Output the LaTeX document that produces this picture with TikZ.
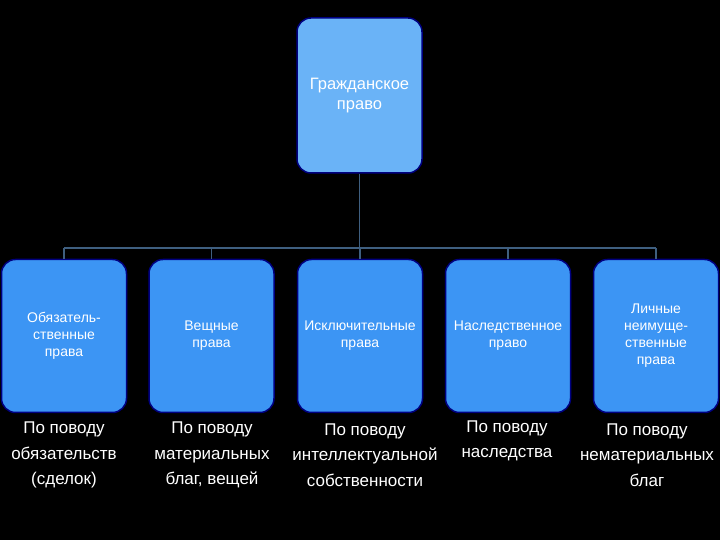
\documentclass[tikz,border=0pt]{standalone}
\usepackage{fontspec}
\setmainfont{Liberation Sans}
\begin{document}
\begin{tikzpicture}[x=1pt,y=1pt,
  box/.style={draw=blue!50!black,line width=1.5pt,fill=bfill,rounded corners=14pt,minimum width=125pt,minimum height=153pt,text=white,font=\fontsize{14}{17}\selectfont,align=center,inner sep=1pt},
  top/.style={box,fill=tfill,minimum height=155pt,font=\fontsize{16.5}{20}\selectfont},
  conn/.style={draw=lcol,line width=1.5pt},
  lab/.style={text=white,font=\fontsize{17}{25.5}\selectfont,align=center}]
\definecolor{bfill}{HTML}{3C95F4}
\definecolor{tfill}{HTML}{6AB3F7}
\definecolor{lcol}{HTML}{3F5F80}
\fill[black] (0,0) rectangle (720,540);
\useasboundingbox (0,0) rectangle (720,540);
\node[top] (t) at (359.5,444.5) {Гражданское\\право};
\node[box] (b1) at (64,204) {Обязатель-\\ственные\\права};
\node[box] (b2) at (211.5,204) {Вещные\\права};
\node[box] (b3) at (360,204) {Исключительные\\права};
\node[box] (b4) at (508,204) {Наследственное\\право};
\node[box] (b5) at (656,204) {Личные\\неимуще-\\ственные\\права};
\coordinate (h) at (0,292);
\foreach \b in {b1,b2,b3,b4,b5}{\draw[conn] (\b.north) -- (\b.north |- h);}
\draw[conn] (b1.north |- h) -- (b5.north |- h);
\draw[conn] (t.south) -- (t.south |- h);
\node[lab] (l1) at (64,85) {По поводу\\обязательств\\(сделок)};
\node[lab] (l2) at (212,85) {По поводу\\материальных\\благ, вещей};
\node[lab] (l3) at (365,85) {По поводу\\интеллектуальной\\собственности};
\node[lab,anchor=north] (l4) at (507,123) {По поводу\\наследства};
\node[lab] (l5) at (647,85) {По поводу\\нематериальных\\благ};
\end{tikzpicture}
\end{document}
